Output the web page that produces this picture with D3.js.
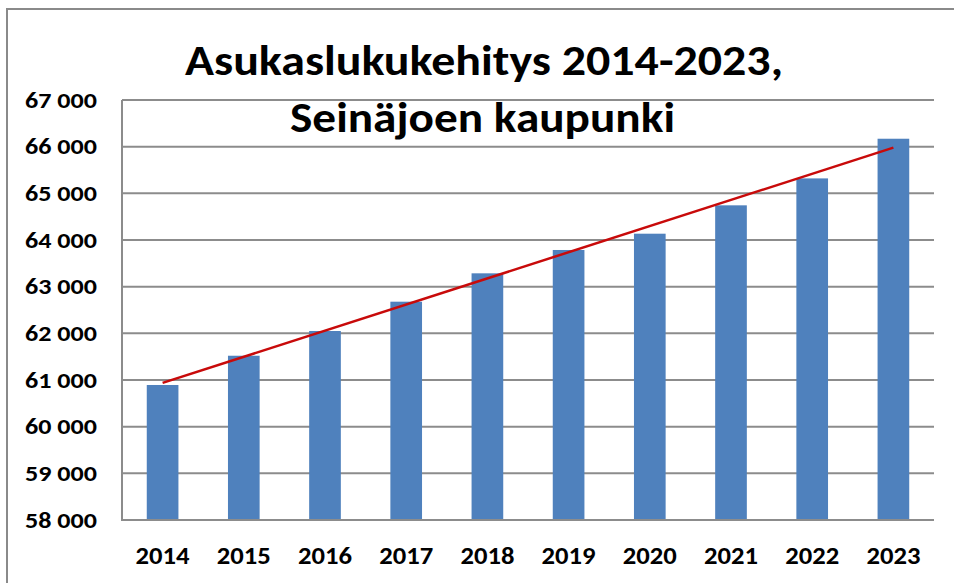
<!DOCTYPE html>
<html>
<head>
<meta charset="utf-8">
<script src="https://cdn.jsdelivr.net/npm/d3@7/dist/d3.min.js"></script>
<style>
  html, body { margin: 0; padding: 0; background: #fff; }
  svg { display: block; }
  text { font-family: Carlito, Lato, "Open Sans", sans-serif; font-weight: bold; fill: #000; }
</style>
</head>
<body>
<svg id="chart" width="954" height="583"></svg>
<script>
const years = ["2014","2015","2016","2017","2018","2019","2020","2021","2022","2023"];
const population = [60893, 61520, 62050, 62678, 63286, 63786, 64135, 64743, 65320, 66170];
const yTicks = [58000, 59000, 60000, 61000, 62000, 63000, 64000, 65000, 66000, 67000];
const titleLines = ["Asukaslukukehitys 2014-2023,", "Seinäjoen kaupunki"];

const W = 954, H = 583;
const svg = d3.select("#chart");
svg.append("rect").attr("width", W).attr("height", H).attr("fill", "#fff");

// outer frame (top and left edges visible)
svg.append("path")
  .attr("d", `M7,${H} L7,9 L${W},9`)
  .attr("fill", "none").attr("stroke", "#8a8a8a").attr("stroke-width", 2);

const m = { left: 122, right: 934, top: 100, bottom: 520 };

const x = d3.scaleBand().domain(years).range([m.left, m.right]).paddingInner(0.61).paddingOuter(0.305);
const y = d3.scaleLinear().domain([58000, 67000]).range([m.bottom, m.top]);

// gridlines
svg.append("g").selectAll("line").data(yTicks).join("line")
  .attr("x1", m.left).attr("x2", m.right)
  .attr("y1", d => y(d)).attr("y2", d => y(d))
  .attr("stroke", "#8c8c8c").attr("stroke-width", 2);

// bars
svg.append("g").selectAll("rect").data(population).join("rect")
  .attr("x", (d, i) => x(years[i]))
  .attr("width", x.bandwidth())
  .attr("y", d => y(d))
  .attr("height", d => y(58000) - y(d))
  .attr("fill", "#4f81bd");

// axes lines
svg.append("line").attr("x1", m.left).attr("x2", m.left).attr("y1", m.top).attr("y2", m.bottom)
  .attr("stroke", "#8c8c8c").attr("stroke-width", 2);
svg.append("line").attr("x1", m.left - 1).attr("x2", m.right).attr("y1", m.bottom).attr("y2", m.bottom)
  .attr("stroke", "#8c8c8c").attr("stroke-width", 2);

// linear trendline (least squares of the data)
const n = population.length;
const xs = d3.range(n);
const mx = d3.mean(xs), my = d3.mean(population);
const slope = d3.sum(xs, i => (i - mx) * (population[i] - my)) / d3.sum(xs, i => (i - mx) ** 2);
const icpt = my - slope * mx;
const cx = i => x(years[i]) + x.bandwidth() / 2;
svg.append("line")
  .attr("x1", cx(0)).attr("y1", y(icpt))
  .attr("x2", cx(n - 1)).attr("y2", y(icpt + slope * (n - 1)))
  .attr("stroke", "#c80a0a").attr("stroke-width", 2.5);

// y tick labels
const fmt = v => d3.format(",")(v).replace(",", " ");
svg.append("g").selectAll("text").data(yTicks).join("text")
  .attr("x", 97).attr("y", d => y(d) + 7.6)
  .attr("text-anchor", "end")
  .attr("font-size", 21.5)
  .attr("textLength", 72).attr("lengthAdjust", "spacingAndGlyphs")
  .text(fmt);

// x tick labels
svg.append("g").selectAll("text").data(years).join("text")
  .attr("x", d => x(d) + x.bandwidth() / 2).attr("y", 564)
  .attr("text-anchor", "middle")
  .attr("font-size", 24)
  .attr("textLength", 54).attr("lengthAdjust", "spacingAndGlyphs")
  .text(d => d);

// title
svg.append("text").attr("x", 484).attr("y", 75).attr("text-anchor", "middle")
  .attr("font-size", 43).attr("textLength", 598).attr("lengthAdjust", "spacingAndGlyphs")
  .text(titleLines[0]);
svg.append("text").attr("x", 482.5).attr("y", 132).attr("text-anchor", "middle")
  .attr("font-size", 42).attr("textLength", 385).attr("lengthAdjust", "spacingAndGlyphs")
  .text(titleLines[1]);
</script>
</body>
</html>
